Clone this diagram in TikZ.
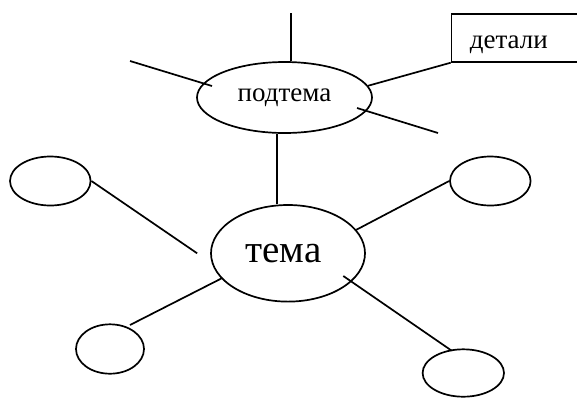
\documentclass[tikz,border=0pt]{standalone}
\usepackage{fontspec}
\setmainfont{Liberation Serif}
\usetikzlibrary{shapes.geometric,calc}
\begin{document}
\begin{tikzpicture}[x=1pt,y=-1pt,line width=1.7pt,
  bubble/.style={draw,ellipse,inner sep=0pt},
  detbox/.style={draw,rectangle,anchor=north west,minimum width=140pt,
    minimum height=47.7pt,inner xsep=18.3pt,text width=103.4pt,align=left,
    text height=21.7pt,text depth=0pt,
    font=\fontsize{27}{30}\selectfont}]
\useasboundingbox (0,0) rectangle (577,397);
\clip (0,0) rectangle (577,397);

% central topic (label set a little left of centre) and the subtopic above it
\node[bubble,minimum width=154pt,minimum height=96.6pt,
      font=\fontsize{39}{42}\selectfont] (tema) at (288,253.3) {\kern-9pt тема};
\node[bubble,minimum width=175pt,minimum height=71pt,
      font=\fontsize{27}{30}\selectfont] (sub) at (284.5,97.5) {подтема};

% empty satellite bubbles
\node[bubble,minimum width=80.6pt,minimum height=49pt] (nw) at (50.3,181) {};
\node[bubble,minimum width=80.6pt,minimum height=49pt] (ne) at (490.3,181) {};
\node[bubble,minimum width=68pt,minimum height=49.4pt] (sw) at (110,349) {};
\node[bubble,minimum width=81.4pt,minimum height=47.4pt] (se) at (463.3,373) {};

% details box, running off the right edge
\node[detbox] (box) at (450.7,13.3) {детали};

% free ends of the open spokes
\coordinate (topend) at (290.7,13);
\coordinate (subL) at (130,61);
\coordinate (subR) at (438,133);

% spokes around the subtopic
\draw (topend) -- (topend |- sub.north);
\draw (subL) -- ($(sub)+(-72.5,-11.5)$);
\draw (sub.8) -- (box.south west);
\draw ($(sub)+(72.5,10.5)$) -- (subR);

% subtopic to topic
\draw (sub.258) -- (sub.258 |- tema.north);

% spokes around the topic
\draw (nw.east) -- ($(tema.west)+(-13,0)$);
\draw (ne.west) -- (tema.19);
\draw ($(sw)+(20,-24)$) -- ($(tema)+(-66.3,25)$);
\draw ($(tema)+(55.3,22.7)$) -- ($(se)+(-11.6,-22.3)$);
\end{tikzpicture}
\end{document}
